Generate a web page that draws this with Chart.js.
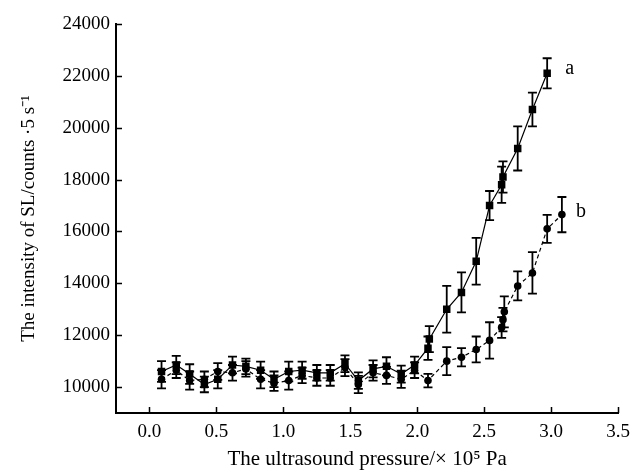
<!DOCTYPE html>
<html><head><meta charset="utf-8">
<script src="https://cdn.jsdelivr.net/npm/chart.js@4"></script>
<style>html,body{margin:0;padding:0;background:#fff}</style>
</head><body>
<canvas id="c" width="638" height="472"></canvas>
<script>
const xTicks = [0, 0.5, 1.0, 1.5, 2.0, 2.5, 3.0, 3.5];
const yTicks = [10000, 12000, 14000, 16000, 18000, 20000, 22000, 24000];

const pressureA  = [0.09, 0.20, 0.30, 0.41, 0.51, 0.62, 0.72, 0.83, 0.93, 1.04, 1.14, 1.25, 1.35, 1.46, 1.56, 1.67, 1.77, 1.88, 1.98, 2.08, 2.09, 2.22, 2.33, 2.44, 2.54, 2.63, 2.64, 2.75, 2.86, 2.97];
const intensityA = [10600, 10850, 10500, 10100, 10300, 10850, 10800, 10650, 10300, 10600, 10650, 10550, 10550, 10900, 10250, 10700, 10800, 10500, 10850, 11500, 11850, 13000, 13650, 14850, 17000, 17800, 18100, 19200, 20700, 22100];
const errorA     = [400, 350, 380, 300, 350, 320, 300, 330, 300, 380, 330, 300, 300, 320, 320, 330, 350, 330, 320, 450, 500, 900, 770, 900, 560, 700, 600, 850, 650, 580];

const pressureB  = [0.09, 0.20, 0.30, 0.41, 0.51, 0.62, 0.72, 0.83, 0.93, 1.04, 1.14, 1.25, 1.35, 1.46, 1.56, 1.67, 1.77, 1.88, 1.98, 2.08, 2.22, 2.33, 2.44, 2.54, 2.63, 2.64, 2.65, 2.75, 2.86, 2.97, 3.08];
const intensityB = [10300, 10650, 10250, 10300, 10600, 10550, 10700, 10300, 10150, 10250, 10450, 10350, 10350, 10750, 10100, 10550, 10450, 10300, 10650, 10250, 11000, 11150, 11450, 11800, 12300, 12600, 12900, 13900, 14400, 16100, 16650];
const errorB     = [350, 300, 350, 300, 320, 300, 300, 350, 300, 350, 300, 300, 300, 330, 330, 300, 330, 330, 300, 260, 540, 350, 500, 700, 400, 450, 600, 560, 800, 540, 680];

const seriesNames = ['a', 'b'];

const FONT = 'Liberation Serif, Times New Roman, serif';

function pts(xs, ys, es) { return xs.map((x, i) => ({ x: x, y: ys[i], e: es[i] })); }

const errorBars = {
  id: 'errorBars',
  beforeDatasetsDraw(chart) {
    const { ctx, scales: { x, y } } = chart;
    ctx.save();
    ctx.strokeStyle = '#000';
    ctx.lineWidth = 1.8;
    chart.data.datasets.forEach(ds => {
      ds.data.forEach(p => {
        const px = x.getPixelForValue(p.x);
        const t = y.getPixelForValue(p.y + p.e);
        const b = y.getPixelForValue(p.y - p.e);
        ctx.beginPath();
        ctx.moveTo(px, t); ctx.lineTo(px, b);
        ctx.moveTo(px - 4.5, t); ctx.lineTo(px + 4.5, t);
        ctx.moveTo(px - 4.5, b); ctx.lineTo(px + 4.5, b);
        ctx.stroke();
      });
    });
    ctx.restore();
  }
};

const innerTicks = {
  id: 'innerTicks',
  afterDraw(chart) {
    const { ctx, chartArea: ca, scales: { x, y } } = chart;
    ctx.save();
    ctx.strokeStyle = '#000';
    ctx.lineWidth = 1.5;
    ctx.beginPath();
    x.ticks.forEach(t => {
      const px = Math.round(x.getPixelForValue(t.value)) + 0.5;
      ctx.moveTo(px, ca.bottom); ctx.lineTo(px, ca.bottom - 6);
    });
    y.ticks.forEach(t => {
      const py = Math.round(y.getPixelForValue(t.value)) + 0.5;
      ctx.moveTo(ca.left, py); ctx.lineTo(ca.left + 6, py);
    });
    ctx.stroke();
    ctx.restore();
  }
};

const seriesLabels = {
  id: 'seriesLabels',
  afterDatasetsDraw(chart) {
    const { ctx, scales: { x, y } } = chart;
    ctx.save();
    ctx.fillStyle = '#000';
    ctx.font = '20px ' + FONT;
    ctx.textBaseline = 'middle';
    ctx.textAlign = 'left';
    chart.data.datasets.forEach((ds, i) => {
      const last = ds.data[ds.data.length - 1];
      const px = x.getPixelForValue(last.x);
      const py = y.getPixelForValue(last.y);
      ctx.fillText(seriesNames[i], px + (i === 0 ? 18 : 14), py - (i === 0 ? 5 : 3));
    });
    ctx.restore();
  }
};

new Chart(document.getElementById('c'), {
  type: 'scatter',
  data: {
    datasets: [
      {
        label: seriesNames[0],
        data: pts(pressureA, intensityA, errorA),
        showLine: true,
        borderColor: '#000',
        backgroundColor: '#000',
        borderWidth: 1.2,
        pointStyle: 'rect',
        pointRadius: 5.3,
        pointBorderWidth: 0,
        pointBackgroundColor: '#000'
      },
      {
        label: seriesNames[1],
        data: pts(pressureB, intensityB, errorB),
        showLine: true,
        borderColor: '#000',
        backgroundColor: '#000',
        borderWidth: 1.2,
        borderDash: [4, 3],
        pointStyle: 'circle',
        pointRadius: 3.8,
        pointBorderWidth: 0,
        pointBackgroundColor: '#000'
      }
    ]
  },
  options: {
    responsive: false,
    animation: false,
    devicePixelRatio: 1,
    layout: { padding: { top: 24, right: 13, bottom: 0, left: 0 } },
    plugins: { legend: { display: false }, tooltip: { enabled: false } },
    scales: {
      x: {
        type: 'linear',
        min: -0.25,
        max: 3.5,
        afterBuildTicks: ax => { ax.ticks = xTicks.map(v => ({ value: v })); },
        afterFit: ax => { ax.height = 59; },
        grid: { display: false, drawTicks: false },
        border: { display: true, color: '#000', width: 2 },
        ticks: {
          color: '#000',
          font: { family: FONT, size: 19 },
          padding: 8,
          maxRotation: 0,
          callback: v => Number(v).toFixed(1)
        },
        title: {
          display: true,
          text: 'The ultrasound pressure/\u00D7 10\u2075 Pa',
          color: '#000',
          font: { family: FONT, size: 21 },
          padding: { top: 0, bottom: 0 }
        }
      },
      y: {
        type: 'linear',
        min: 9000,
        max: 24000,
        afterBuildTicks: ax => { ax.ticks = yTicks.map(v => ({ value: v })); },
        afterFit: ax => { ax.width = 116; },
        grid: { display: false, drawTicks: false },
        border: { display: true, color: '#000', width: 2 },
        ticks: {
          color: '#000',
          font: { family: FONT, size: 19 },
          padding: 6,
          callback: v => String(v)
        },
        title: {
          display: true,
          text: 'The intensity of SL/counts \u00B75 s\u207B\u00B9',
          color: '#000',
          font: { family: FONT, size: 19 },
          padding: { top: 18, bottom: 0 }
        }
      }
    }
  },
  plugins: [errorBars, innerTicks, seriesLabels]
});
</script>
</body></html>
